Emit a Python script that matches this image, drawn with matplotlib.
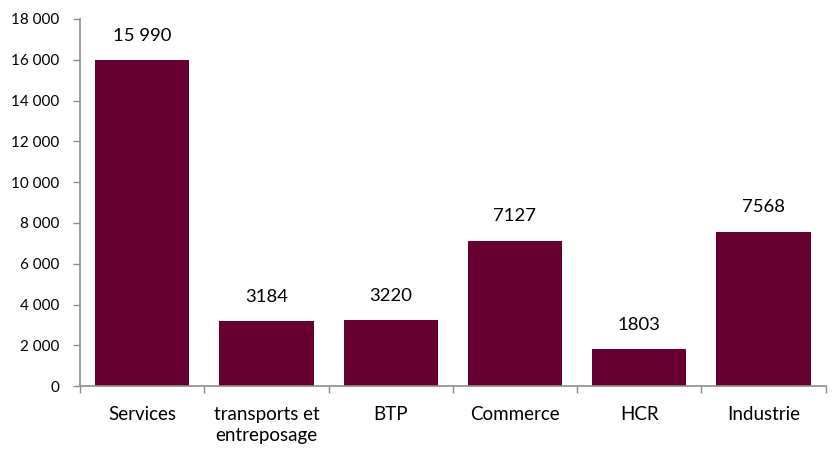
import matplotlib
matplotlib.use("Agg")
import matplotlib.pyplot as plt
from matplotlib.ticker import FuncFormatter, FixedLocator
import numpy as np

plt.rcParams['font.family'] = ['Lato', 'DejaVu Sans']

# données
categories = ["Services", "transports et\nentreposage", "BTP", "Commerce", "HCR", "Industrie"]
valeurs = [15990, 3184, 3220, 7127, 1803, 7568]
etiquettes = ["15 990", "3184", "3220", "7127", "1803", "7568"]

couleur = "#660030"
gris = "#8c8c8c"

fig = plt.figure(figsize=(8.34, 4.5), dpi=100)
ax = fig.add_axes([0.096, 0.142, 0.894, 0.816])

x = np.arange(len(categories))
ax.bar(x, valeurs, width=0.76, color=couleur)

for xi, v, lab in zip(x, valeurs, etiquettes):
    ax.text(xi, v + 800, lab, ha="center", va="bottom", fontsize=13.3, color="black")

ax.set_xlim(-0.5, len(categories) - 0.5)
ax.set_ylim(0, 18000)
ax.set_yticks(np.arange(0, 18001, 2000))
ax.yaxis.set_major_formatter(FuncFormatter(lambda v, p: f"{int(v):,}".replace(",", " ")))

ax.set_xticks(x)
ax.set_xticklabels(categories, fontsize=13.5, linespacing=1.3)
ax.xaxis.set_minor_locator(FixedLocator(np.arange(-0.5, len(categories), 1.0)))
ax.tick_params(axis="x", which="major", length=0, pad=14)
ax.tick_params(axis="x", which="minor", length=5, color=gris, width=1)
ax.tick_params(axis="y", length=5, color=gris, width=1, labelsize=11, pad=10)

for s in ["top", "right"]:
    ax.spines[s].set_visible(False)
ax.spines["left"].set_color(gris)
ax.spines["bottom"].set_color(gris)
ax.spines["left"].set_linewidth(1.2)
ax.spines["bottom"].set_linewidth(1.2)

plt.savefig("out.png", dpi=100)
